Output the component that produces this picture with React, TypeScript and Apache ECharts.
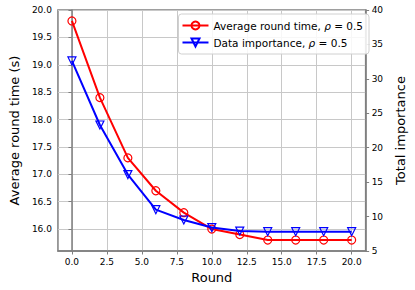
import React, { useEffect, useRef } from "react";
import * as echarts from "echarts";

const rounds = [0, 2, 4, 6, 8, 10, 12, 14, 16, 18, 20];
const avgRoundTime = [19.8, 18.4, 17.3, 16.7, 16.3, 16.0, 15.9, 15.8, 15.8, 15.8, 15.8];
const dataImportance = [32.6, 23.3, 16.1, 11.0, 9.5, 8.4, 7.9, 7.8, 7.8, 7.8, 7.8];
const xTicks = [0, 2.5, 5, 7.5, 10, 12.5, 15, 17.5, 20];
const leftTicks = [16, 16.5, 17, 17.5, 18, 18.5, 19, 19.5, 20];

const FONT = "DejaVu Sans";
const SPINE = "#7f7f7f";

export default function App() {
  const ref = useRef<HTMLDivElement>(null);
  useEffect(() => {
    document.body.style.margin = "0";
    const chart = echarts.init(ref.current!, null, { renderer: "svg" });
    const axisCommon = {
      axisLine: { show: true, lineStyle: { color: SPINE, width: 1.5 } },
      axisTick: { show: true, length: 3.5, lineStyle: { color: SPINE, width: 1 } },
      nameTextStyle: { fontFamily: FONT, fontSize: 13, color: "#000" },
    };
    chart.setOption({
      animation: false,
      textStyle: { fontFamily: FONT },
      grid: {
        left: 50,
        right: 40,
        top: 10,
        bottom: 39,
        containLabel: false,
        show: true,
        borderColor: SPINE,
        borderWidth: 1.5,
      },
      legend: {
        right: 46,
        top: 14,
        orient: "vertical",
        itemWidth: 26,
        itemHeight: 10,
        itemGap: 4,
        padding: [5, 6, 5, 3],
        borderColor: "#d0d0d0",
        borderWidth: 1,
        borderRadius: 3,
        backgroundColor: "rgba(255,255,255,0.85)",
        textStyle: {
          fontFamily: FONT,
          fontSize: 10.5,
          lineHeight: 13,
          color: "#000",
          rich: { i: { fontStyle: "italic", fontFamily: FONT, fontSize: 10.5, lineHeight: 13 } },
        },
        formatter: (name: string) => name.replace("ρ", "{i|ρ}"),
        data: ["Average round time, ρ = 0.5", "Data importance, ρ = 0.5"],
      },
      xAxis: {
        type: "value",
        min: -1,
        max: 21,
        name: "Round",
        nameLocation: "middle",
        nameGap: 17,
        ...axisCommon,
        axisTick: { ...axisCommon.axisTick, customValues: xTicks },
        axisLabel: {
          customValues: xTicks,
          fontFamily: FONT,
          fontSize: 9,
          color: "#000",
          margin: 6,
          formatter: (v: number) => v.toFixed(1),
        },
        splitLine: { show: true, lineStyle: { color: "#c8c8c8", width: 1 } },
      },
      yAxis: [
        {
          type: "value",
          min: 15.6,
          max: 20.0,
          name: "Average round time (s)",
          nameLocation: "middle",
          nameRotate: 90,
          nameGap: 31,
          ...axisCommon,
          axisTick: { ...axisCommon.axisTick, customValues: leftTicks },
          axisLabel: {
            customValues: leftTicks,
            fontFamily: FONT,
            fontSize: 9,
            color: "#000",
            margin: 6,
            formatter: (v: number) => v.toFixed(1),
          },
          splitLine: { show: true, lineStyle: { color: "#c8c8c8", width: 1 } },
        },
        {
          type: "value",
          position: "right",
          min: 5,
          max: 40,
          interval: 5,
          name: "Total importance",
          nameLocation: "middle",
          nameRotate: 90,
          nameGap: 20,
          ...axisCommon,
          axisLabel: { fontFamily: FONT, fontSize: 9, color: "#000", margin: 6 },
          splitLine: { show: false },
        },
      ],
      series: [
        {
          name: "Average round time, ρ = 0.5",
          type: "line",
          yAxisIndex: 0,
          data: rounds.map((r, i) => [r, avgRoundTime[i]]),
          symbol: "circle",
          symbolSize: 8,
          showAllSymbol: true,
          lineStyle: { color: "#ff0000", width: 2 },
          itemStyle: { color: "#ff0000", borderColor: "#ff0000", borderWidth: 1.2 },
          emphasis: { disabled: true },
          z: 3,
        },
        {
          name: "Data importance, ρ = 0.5",
          type: "line",
          yAxisIndex: 1,
          data: rounds.map((r, i) => [r, dataImportance[i]]),
          symbol: "triangle",
          symbolRotate: 180,
          symbolSize: 8,
          showAllSymbol: true,
          lineStyle: { color: "#0000ff", width: 2 },
          itemStyle: { color: "#0000ff", borderColor: "#0000ff", borderWidth: 1.2 },
          emphasis: { disabled: true },
          z: 4,
        },
      ],
    });
    // make markers hollow
    chart.setOption({
      series: [
        { itemStyle: { color: "rgba(255,255,255,0)" } },
        { itemStyle: { color: "rgba(255,255,255,0)" } },
      ],
    });
    return () => chart.dispose();
  }, []);
  return <div ref={ref} style={{ width: 415, height: 290 }} />;
}
